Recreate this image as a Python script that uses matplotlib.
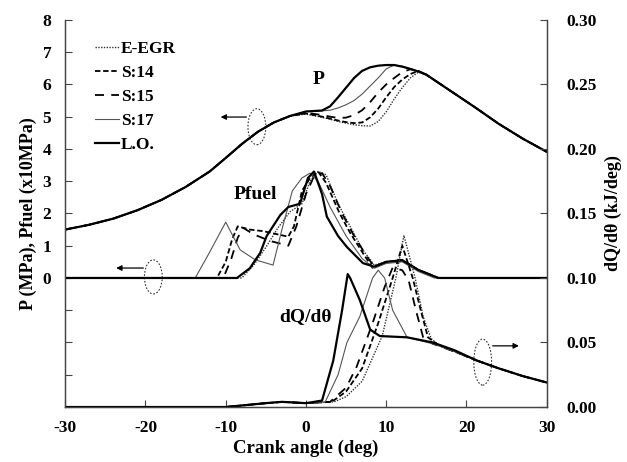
import numpy as np
import matplotlib
matplotlib.use("Agg")
import matplotlib.pyplot as plt
from matplotlib.patches import Ellipse

plt.rcParams['font.family'] = ['Liberation Serif', 'DejaVu Serif']
plt.rcParams['font.weight'] = 'bold'
plt.rcParams['axes.unicode_minus'] = False

labels = ['E-EGR', 'S:14', 'S:15', 'S:17', 'L.O.']

# cylinder pressure (MPa): shared compression part, own combustion part, shared expansion part
p_head_x = [-30, -27, -24, -21, -18, -15, -12, -10, -8, -6, -4, -2]
p_head_y = [1.5, 1.65, 1.84, 2.1, 2.42, 2.82, 3.3, 3.72, 4.15, 4.53, 4.82, 5.02]
p_tail_x = [15, 18, 21, 24, 27, 30]
p_tail_y = [6.3, 5.8, 5.3, 4.78, 4.32, 3.91]

p_mid_x = [0, 2, 3, 4, 5, 6, 7, 8, 9, 10, 11, 12, 13, 14]
p_mid = {
    'E-EGR': [5.08, 4.98, 4.92, 4.85, 4.8, 4.75, 4.72, 4.71, 4.85, 5.15, 5.55, 5.9, 6.2, 6.38],
    'S:14':  [5.1, 5.0, 4.94, 4.88, 4.83, 4.8, 4.82, 4.98, 5.25, 5.6, 5.92, 6.15, 6.32, 6.42],
    'S:15':  [5.12, 5.05, 5.0, 4.96, 4.97, 5.05, 5.2, 5.45, 5.75, 6.0, 6.2, 6.38, 6.47, 6.42],
    'S:17':  [5.16, 5.18, 5.2, 5.27, 5.37, 5.5, 5.7, 5.95, 6.2, 6.48, 6.6, 6.56, 6.48, 6.4],
    'L.O.':  [5.16, 5.19, 5.32, 5.6, 5.9, 6.2, 6.42, 6.53, 6.58, 6.6, 6.6, 6.55, 6.48, 6.4],
}

# fuel line pressure (x10 MPa)
pf_x = {
    'E-EGR': [-30, -8, -6.5, -5, -3.5, -2, -0.5, 0.5, 1.5, 2.5, 4, 5.5, 7, 8.5, 10, 12, 14, 16.5, 30],
    'S:14':  [-30, -11.1, -10, -9.2, -8.5, -7, -5.3, -3.5, -2.2, -1.5, -0.5, 0.5, 1.5, 2.5, 4.2, 5.5, 7.1, 8.3, 10, 12, 14, 16.5, 30],
    'S:15':  [-30, -10.3, -9.3, -8.5, -7.8, -6.5, -4.5, -2.2, -1.2, 0, 1.0, 2.0, 3.0, 4.5, 6, 7.5, 8.5, 10, 12, 14, 16.5, 30],
    'S:17':  [-30, -13.8, -12, -10, -8.2, -6.3, -4.1, -3, -1.7, -0.5, 0.5, 1.5, 3, 5, 7, 8.5, 10, 12, 14, 16, 30],
    'L.O.':  [-30, -8.6, -7, -5.7, -4.9, -3.2, -2.2, -0.75, 0.25, 1.0, 2.0, 2.6, 4, 5.1, 7.1, 8.5, 10, 12, 14, 16.5, 30],
}
pf_y = {
    'E-EGR': [0, 0, 0.4, 0.95, 1.55, 2.05, 2.3, 3.0, 3.3, 3.2, 2.3, 1.6, 0.9, 0.4, 0.5, 0.55, 0.25, 0, 0],
    'S:14':  [0, 0, 0.5, 1.2, 1.6, 1.5, 1.45, 1.35, 1.28, 1.6, 2.7, 3.1, 3.3, 2.95, 2.0, 1.4, 0.77, 0.31, 0.5, 0.55, 0.25, 0, 0],
    'S:15':  [0, 0, 0.6, 1.25, 1.55, 1.35, 1.15, 1.0, 1.6, 2.6, 3.15, 3.25, 2.85, 2.0, 1.3, 0.7, 0.35, 0.5, 0.55, 0.25, 0, 0],
    'S:17':  [0, 0, 0.8, 1.73, 0.87, 0.56, 0.4, 1.5, 2.7, 3.1, 3.25, 3.0, 2.2, 1.3, 0.6, 0.3, 0.45, 0.5, 0.2, 0, 0],
    'L.O.':  [0, 0, 0.3, 0.78, 1.3, 1.95, 2.2, 2.3, 3.1, 3.3, 2.6, 1.9, 1.3, 0.96, 0.46, 0.35, 0.5, 0.55, 0.25, 0, 0],
}

# heat release rate (kJ/deg)
dq_x = {
    'E-EGR': [-30, -10, -5, -3, 0, 3.5, 5, 7.0, 9.5, 11.2, 12.2, 13.6, 14.6, 15.6, 16.5, 18.5, 21.3, 24, 27, 30],
    'S:14':  [-30, -10, -5, -3, 0, 3.2, 5, 7.0, 9.0, 10.8, 12.0, 13.3, 14.3, 15.2, 16.5, 18.5, 21.3, 24, 27, 30],
    'S:15':  [-30, -10, -5, -3, 0, 3.0, 5, 6.3, 8.3, 9.8, 10.8, 12.0, 12.8, 13.7, 14.6, 15.8, 18.5, 21.3, 24, 27, 30],
    'S:17':  [-30, -10, -5, -3, 0, 2.4, 4, 5.1, 6.7, 8.3, 9.0, 9.8, 10.8, 12.6, 15.8, 18.5, 21.3, 24, 27, 30],
    'L.O.':  [-30, -10, -5, -3, 0, 2.0, 3.4, 4.5, 5.2, 5.5, 6.7, 8.0, 9.2, 12.6, 15.8, 18.5, 21.3, 24, 27, 30],
}
dq_y = {
    'E-EGR': [0, 0, 0.003, 0.004, 0.003, 0.004, 0.008, 0.02, 0.055, 0.10, 0.133, 0.10, 0.07, 0.053, 0.048, 0.043, 0.036, 0.030, 0.024, 0.019],
    'S:14':  [0, 0, 0.003, 0.004, 0.003, 0.004, 0.012, 0.03, 0.065, 0.10, 0.125, 0.10, 0.075, 0.054, 0.048, 0.043, 0.036, 0.030, 0.024, 0.019],
    'S:15':  [0, 0, 0.003, 0.004, 0.003, 0.004, 0.015, 0.031, 0.065, 0.093, 0.108, 0.106, 0.098, 0.075, 0.054, 0.049, 0.043, 0.036, 0.030, 0.024, 0.019],
    'S:17':  [0, 0, 0.003, 0.004, 0.003, 0.004, 0.025, 0.05, 0.07, 0.1, 0.106, 0.1, 0.075, 0.054, 0.049, 0.043, 0.036, 0.030, 0.024, 0.019],
    'L.O.':  [0, 0, 0.003, 0.004, 0.003, 0.005, 0.036, 0.075, 0.103, 0.1, 0.083, 0.060, 0.055, 0.054, 0.050, 0.044, 0.036, 0.030, 0.024, 0.019],
}

styles = {
    'E-EGR': dict(color='#333333', lw=1.0, ls=(0, (1, 1))),
    'S:14':  dict(color='black', lw=1.3, ls=(0, (3, 1.5))),
    'S:15':  dict(color='black', lw=1.3, ls=(0, (5, 4))),
    'S:17':  dict(color='#555555', lw=0.8, ls='-'),
    'L.O.':  dict(color='black', lw=1.6, ls='-'),
}

fig = plt.figure(figsize=(6.27, 4.62), dpi=100)
ax = fig.add_axes([0.104, 0.119, 0.768, 0.838])
ax2 = ax.twinx()

for name in labels:
    px = p_head_x + p_mid_x + p_tail_x
    py = p_head_y + p_mid[name] + p_tail_y
    ax.plot(px, py, label=name, **styles[name])
    ax.plot(pf_x[name], pf_y[name], **styles[name])
    ax2.plot(dq_x[name], dq_y[name], **styles[name])

ax.set_xlim(-30, 30)
ax.set_ylim(-4, 8)
ax2.set_ylim(0, 0.30)
ax.set_xticks(np.arange(-30, 31, 10))
ax.set_yticks(np.arange(-4, 9, 1))
ax.set_yticklabels(['' if v < 0 else str(v) for v in range(-4, 9)])
ax2.set_yticks(np.arange(0, 0.31, 0.05))
ax2.set_yticklabels(['%.2f' % v for v in np.arange(0, 0.31, 0.05)])

for a in (ax, ax2):
    a.spines['top'].set_visible(False)
    for s in a.spines.values():
        s.set_linewidth(0.9)
        s.set_color('#444444')
ax.tick_params(axis='both', direction='in', length=5, width=0.8, labelsize=12.5, colors='#444444', labelcolor='black')
ax.tick_params(axis='y', pad=10)
ax.tick_params(axis='x', pad=9)
ax2.tick_params(axis='y', direction='in', length=5, width=0.8, labelsize=12.5, pad=14, colors='#444444', labelcolor='black')

ax.set_xlabel('Crank angle (deg)', fontsize=13.5, fontweight='bold', labelpad=3)
ax.set_ylabel('P (MPa), Pfuel (x10MPa)', fontsize=13, fontweight='bold', labelpad=4)
ax2.set_ylabel('dQ/d\u03b8 (kJ/deg)', fontsize=13, fontweight='bold', labelpad=6)

ax.legend(loc='upper left', bbox_to_anchor=(0.062, 0.945), frameon=False, fontsize=12.5,
          handlelength=1.4, handletextpad=0.1, labelspacing=0.45, borderpad=0, borderaxespad=0)

ax.text(0.527, 0.845, 'P', transform=ax.transAxes, fontsize=14, fontweight='bold', ha='center', va='center')
ax.text(0.394, 0.548, 'Pfuel', transform=ax.transAxes, fontsize=14, fontweight='bold', ha='center', va='center')
ax.text(0.498, 0.233, 'dQ/d\u03b8', transform=ax.transAxes, fontsize=14, fontweight='bold', ha='center', va='center')

for cx, cy, w, h in [(0.398, 0.724, 0.037, 0.093), (0.183, 0.336, 0.037, 0.088), (0.867, 0.116, 0.037, 0.119)]:
    ax.add_patch(Ellipse((cx, cy), w, h, transform=ax.transAxes, fill=False, ls=(0, (1.5, 1.5)), lw=0.8, ec='#333333'))

arrows = [((0.382, 0.749), (0.317, 0.749)), ((0.168, 0.359), (0.100, 0.359)), ((0.882, 0.158), (0.948, 0.158))]
for start, end in arrows:
    ax.annotate('', xy=end, xytext=start, xycoords='axes fraction', textcoords='axes fraction',
                arrowprops=dict(arrowstyle='-|>', lw=0.9, color='black', mutation_scale=8))

fig.savefig('out.png', dpi=100)
